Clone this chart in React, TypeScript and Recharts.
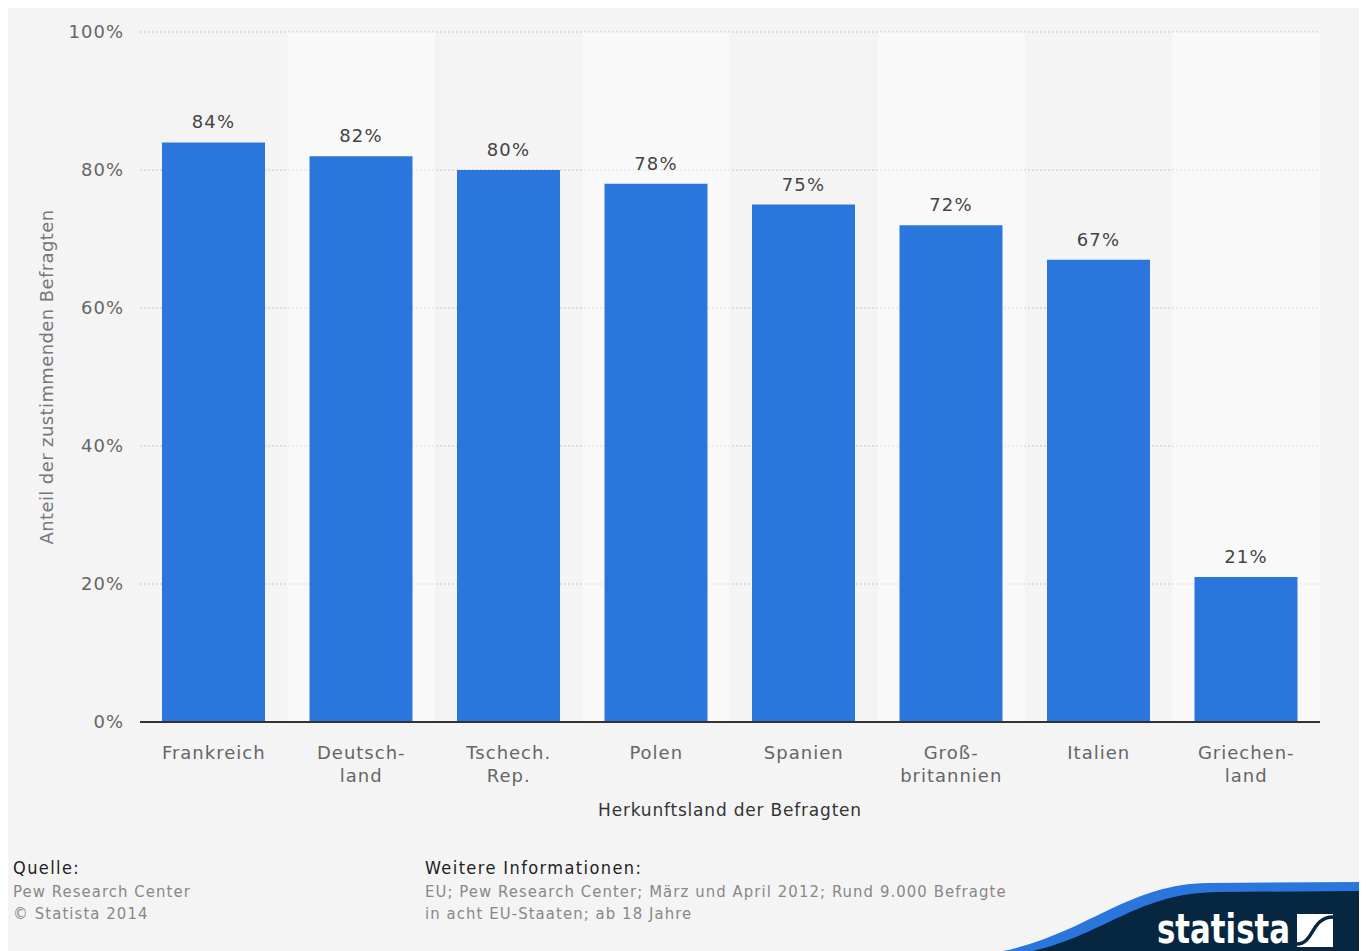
import React from "react";
import {
  BarChart,
  Bar,
  XAxis,
  YAxis,
  CartesianGrid,
  LabelList,
  ReferenceArea,
} from "recharts";

const countries = [
  "Frankreich",
  "Deutsch-\nland",
  "Tschech.\nRep.",
  "Polen",
  "Spanien",
  "Groß-\nbritannien",
  "Italien",
  "Griechen-\nland",
];
const shares = [84, 82, 80, 78, 75, 72, 67, 21];
const yTicks = [0, 20, 40, 60, 80, 100];

const data = countries.map((country, i) => ({ country, share: shares[i] }));

const BLUE = "#2a76dd";
const NAVY = "#06273f";
const FONT = "'DejaVu Sans', sans-serif";
const FOOT_FONT = "'DejaVu Sans Condensed', 'DejaVu Sans', sans-serif";

function CountryTick({ x, y, payload }: any) {
  const lines = String(payload.value).split("\n");
  return (
    <text
      x={x}
      y={y}
      textAnchor="middle"
      fill="#666"
      fontSize={18}
      fontFamily={FONT}
      letterSpacing={1}
    >
      {lines.map((line, i) => (
        <tspan key={i} x={x} dy={i === 0 ? 29 : 23}>
          {line}
        </tspan>
      ))}
    </text>
  );
}

function YTitle({ viewBox }: any) {
  const cx = viewBox.x + 38;
  const cy = viewBox.y + viewBox.height / 2;
  return (
    <text
      x={cx}
      y={cy}
      transform={`rotate(-90 ${cx} ${cy})`}
      textAnchor="middle"
      dominantBaseline="central"
      fill="#777"
      fontSize={18}
      fontFamily={FONT}
      letterSpacing={0.4}
    >
      Anteil der zustimmenden Befragten
    </text>
  );
}

export default function App() {
  return (
    <div
      style={{
        position: "relative",
        width: 1352,
        height: 943,
        background: "#f4f4f4",
        overflow: "hidden",
      }}
    >
      <BarChart
        width={1352}
        height={830}
        data={data}
        margin={{ top: 24, right: 40, bottom: 16, left: 0 }}
      >
        <CartesianGrid
          vertical={false}
          stroke="#c4c4c4"
          strokeDasharray="2 2"
        />
        {countries
          .filter((_, i) => i % 2 === 1)
          .map((c) => (
            <ReferenceArea
              key={c}
              x1={c}
              x2={c}
              y1={0}
              y2={100}
              fill="#ffffff"
              fillOpacity={0.45}
              stroke="none"
            />
          ))}
        <XAxis
          dataKey="country"
          tickLine={false}
          axisLine={{ stroke: "#333", strokeWidth: 2 }}
          tick={<CountryTick />}
          interval={0}
          height={100}
          label={{
            value: "Herkunftsland der Befragten",
            position: "insideBottom",
            offset: 6,
            fill: "#333",
            fontSize: 17,
            fontFamily: FONT,
            letterSpacing: 0.8,
          }}
        />
        <YAxis
          domain={[0, 100]}
          ticks={yTicks}
          width={132}
          tickLine={false}
          axisLine={false}
          tickMargin={10}
          tickFormatter={(v: number) => `${v}%`}
          tick={{ fill: "#666", fontSize: 18, fontFamily: FONT, letterSpacing: 1 }}
          label={<YTitle />}
        />
        <Bar dataKey="share" fill={BLUE} barSize={103} isAnimationActive={false}>
          <LabelList
            dataKey="share"
            position="top"
            offset={14}
            formatter={(v: any) => `${v}%`}
            fill="#444"
            fontSize={18}
            fontFamily={FONT}
            letterSpacing={1.2}
          />
        </Bar>
      </BarChart>

      <svg
        width={1352}
        height={943}
        style={{ position: "absolute", left: 0, top: 0, pointerEvents: "none" }}
      >
        <g fontFamily={FOOT_FONT} fontSize={16.5} letterSpacing={1.1}>
          <text x={5} y={866} fill="#222" fontSize={18} letterSpacing={1.4}>
            Quelle:
          </text>
          <text x={5} y={889} fill="#888">
            Pew Research Center
          </text>
          <text x={5} y={911} fill="#888">
            © Statista 2014
          </text>
          <text x={417} y={866} fill="#222" fontSize={18} letterSpacing={1.4}>
            Weitere Informationen:
          </text>
          <text x={417} y={889} fill="#888">
            EU; Pew Research Center; März und April 2012; Rund 9.000 Befragte
          </text>
          <text x={417} y={911} fill="#888">
            in acht EU-Staaten; ab 18 Jahre
          </text>
        </g>
        <path
          d="M 995 943 C 1080 925, 1120 876, 1200 875 L 1352 874 L 1352 943 Z"
          fill={BLUE}
        />
        <path
          d="M 1025 943 C 1100 925, 1130 885, 1210 884 L 1352 883 L 1352 943 Z"
          fill={NAVY}
        />
        <text
          x={1149}
          y={935}
          fill="#fff"
          fontSize={40}
          fontWeight="bold"
          fontFamily="'Liberation Sans Narrow', 'DejaVu Sans Condensed', sans-serif"
          textLength={133}
          lengthAdjust="spacingAndGlyphs"
        >
          statista
        </text>
        <rect x={1289} y={906} width={36} height={33} fill="#fff" />
        <path
          d="M 1289 936 C 1306 936, 1303 909, 1325 909"
          fill="none"
          stroke={NAVY}
          strokeWidth={3.5}
        />
      </svg>
    </div>
  );
}
